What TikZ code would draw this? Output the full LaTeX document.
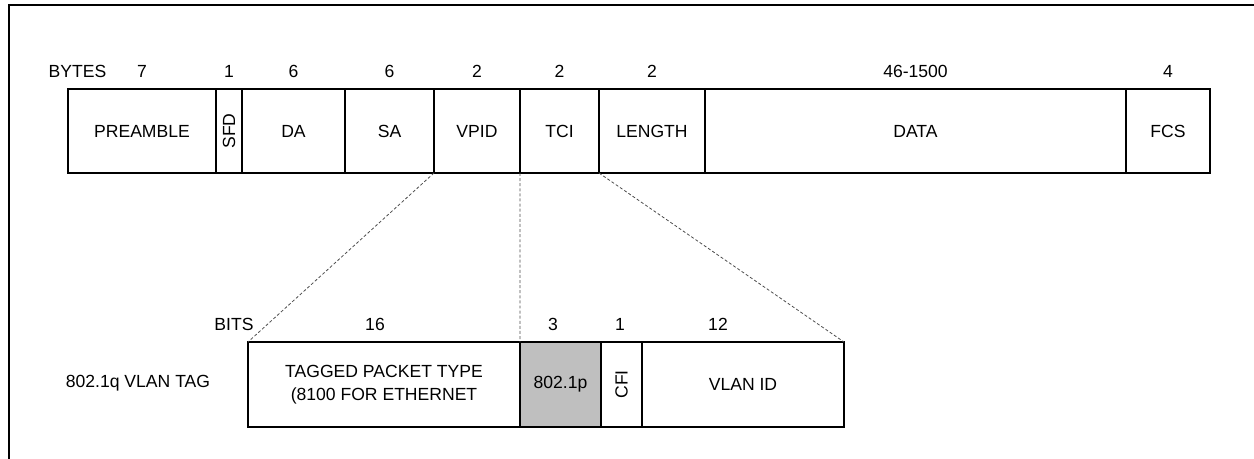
\documentclass[tikz,border=0pt]{standalone}
\usepackage{fontspec}
\setmainfont{Liberation Sans}
\usetikzlibrary{positioning}
\tikzstyle{field}=[draw, line width=1.1pt, inner sep=0pt, outer sep=0pt, anchor=north west, minimum height=1.68cm, align=center]
\tikzstyle{count}=[anchor=base, yshift=0.23cm]
\tikzstyle{zoomline}=[line width=0.45pt, gray!60!black, dash pattern=on 1.7pt off 1.2pt]

\begin{document}
\begin{tikzpicture}[font=\fontsize{10}{13}\selectfont]
\useasboundingbox (0,0) rectangle (25.08,-9.18);
\draw[line width=1.7pt] (0.18,-9.4) -- (0.18,-0.1) -- (25.3,-0.1);
% ethernet frame
\node[field, minimum width=2.96cm] (pre) at (1.36,-1.78) {PREAMBLE};
\node[field, minimum width=0.52cm] (sfd) at (pre.north east) {\rotatebox{90}{SFD}};
\node[field, minimum width=2.06cm] (da) at (sfd.north east) {DA};
\node[field, minimum width=1.78cm] (sa) at (da.north east) {SA};
\node[field, minimum width=1.72cm] (vpid) at (sa.north east) {VPID};
\node[field, minimum width=1.58cm] (tci) at (vpid.north east) {TCI};
\node[field, minimum width=2.12cm] (len) at (tci.north east) {LENGTH};
\node[field, minimum width=8.42cm] (data) at (len.north east) {DATA};
\node[field, minimum width=1.68cm] (fcs) at (data.north east) {FCS};
% byte counts
\node[count] (bytes) at (1.55,-1.78) {BYTES};
\node[count] (npre) at (pre.north) {7};
\node[count] (nsfd) at (sfd.north) {1};
\node[count] (nda) at (da.north) {6};
\node[count] (nsa) at (sa.north) {6};
\node[count] (nvpid) at (vpid.north) {2};
\node[count] (ntci) at (tci.north) {2};
\node[count] (nlen) at (len.north) {2};
\node[count] (ndata) at (data.north) {46-1500};
\node[count] (nfcs) at (fcs.north) {4};
% vlan tag
\node (tag) at (2.76,-7.66) {802.1q VLAN TAG};
\node[field, minimum width=5.44cm, minimum height=1.70cm] (tpt) at (4.96,-6.84) {TAGGED PACKET TYPE\\(8100 FOR ETHERNET};
\node[field, minimum width=1.62cm, minimum height=1.70cm, fill=black!25] (pcp) at (tpt.north east) {802.1p};
\node[field, minimum width=0.82cm, minimum height=1.70cm] (cfi) at (pcp.north east) {\rotatebox{90}{CFI}};
\node[field, minimum width=4.04cm, minimum height=1.70cm] (vid) at (cfi.north east) {VLAN ID};
% bit counts
\node[count] (bits) at (4.68,-6.84) {BITS};
\node[count] (ntpt) at (7.50,-6.84) {16};
\node[count] (npcp) at (11.06,-6.84) {3};
\node[count] (ncfi) at (12.40,-6.84) {1};
\node[count] (nvid) at (14.36,-6.84) {12};
% zoom lines
\draw[zoomline] (vpid.south west) -- (tpt.north west);
\draw[zoomline] (tci.south west) -- (pcp.north west);
\draw[zoomline] (len.south west) -- (vid.north east);
\end{tikzpicture}
\end{document}
